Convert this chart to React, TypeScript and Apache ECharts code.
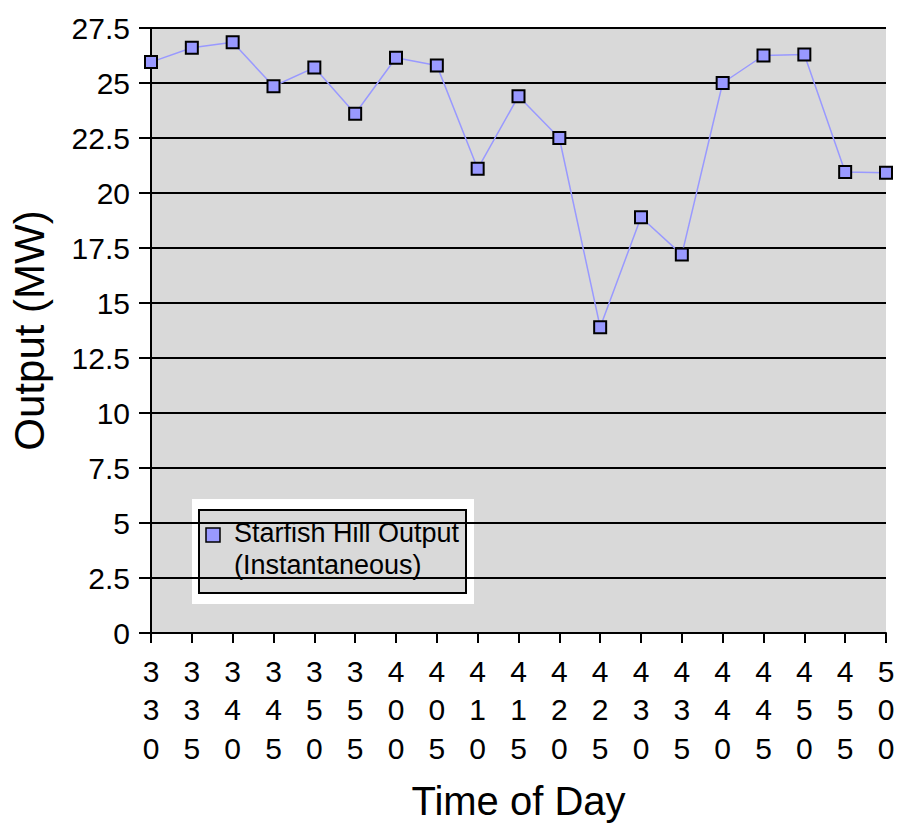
import React, { useEffect, useRef } from "react";
import * as echarts from "echarts";

const categories = ["330", "335", "340", "345", "350", "355", "400", "405", "410", "415", "420", "425", "430", "435", "440", "445", "450", "455", "500"];
const outputValues = [25.95, 26.6, 26.85, 24.85, 25.7, 23.6, 26.15, 25.8, 21.1, 24.4, 22.5, 13.9, 18.9, 17.2, 25.0, 26.25, 26.3, 20.95, 20.92];
const seriesName = "Starfish Hill Output (Instantaneous)";
const legendLines = ["Starfish Hill Output", "(Instantaneous)"];
const yTitle = "Output (MW)";
const xTitle = "Time of Day";

const FONT = "Liberation Sans, Arial, sans-serif";
const BLUE = "#9999ff";
const BG = "#d9d9d9";

export default function App() {
  const ref = useRef<HTMLDivElement>(null);
  useEffect(() => {
    if (!ref.current) return;
    document.body.style.margin = "0";
    document.body.style.overflow = "hidden";
    document.documentElement.style.overflow = "hidden";
    const chart = echarts.init(ref.current, null, { renderer: "svg" });
    chart.setOption({
      animation: false,
      backgroundColor: "#ffffff",
      textStyle: { fontFamily: FONT },
      grid: {
        left: 151,
        right: 12,
        top: 28,
        bottom: 188,
        show: true,
        backgroundColor: BG,
        borderWidth: 0,
      },
      xAxis: {
        type: "category",
        data: categories,
        boundaryGap: false,
        name: xTitle,
        nameLocation: "middle",
        nameGap: 148,
        nameTextStyle: { fontSize: 40, color: "#000", fontFamily: FONT },
        axisLine: { show: true, lineStyle: { color: "#000", width: 2 } },
        axisTick: { show: true, length: 10, lineStyle: { color: "#000", width: 2 }, interval: 0 },
        axisLabel: {
          interval: 0,
          margin: 19,
          fontSize: 30,
          lineHeight: 38.5,
          color: "#000",
          fontFamily: FONT,
          formatter: (v: string) => v.split("").join("\n"),
        },
        splitLine: { show: false },
      },
      yAxis: {
        type: "value",
        min: 0,
        max: 27.5,
        interval: 2.5,
        name: yTitle,
        nameLocation: "middle",
        nameRotate: 90,
        nameGap: 101,
        nameTextStyle: { fontSize: 42, color: "#000", fontFamily: FONT },
        axisLine: { show: true, lineStyle: { color: "#000", width: 2 } },
        axisTick: { show: true, length: 12, lineStyle: { color: "#000", width: 2 } },
        axisLabel: { margin: 21, fontSize: 30, color: "#000", fontFamily: FONT },
        splitLine: { show: true, lineStyle: { color: "#000", width: 2 } },
      },
      legend: { show: false },
      series: [
        {
          name: seriesName,
          type: "line",
          data: outputValues,
          symbol: "rect",
          symbolSize: 12,
          lineStyle: { color: BLUE, width: 1.5 },
          itemStyle: { color: BLUE, borderColor: "#000", borderWidth: 2 },
          z: 5,
        },
      ],
      graphic: [
        {
          type: "group",
          left: 192,
          top: 499,
          children: [
            { type: "rect", shape: { x: 0, y: 0, width: 282, height: 105 }, style: { fill: "#ffffff" } },
            { type: "rect", shape: { x: 7, y: 11, width: 267, height: 83 }, style: { fill: BG, stroke: "#000", lineWidth: 2 } },
            { type: "rect", shape: { x: 14, y: 29, width: 14, height: 14 }, style: { fill: BLUE, stroke: "#000", lineWidth: 1.5 } },
            { type: "text", x: 42, y: 34, style: { text: legendLines[0], font: `27px ${FONT}`, fill: "#000", verticalAlign: "middle" } },
            { type: "text", x: 42, y: 66, style: { text: legendLines[1], font: `27px ${FONT}`, fill: "#000", verticalAlign: "middle" } },
          ],
        },
      ],
    });
    return () => chart.dispose();
  }, []);
  return (
    <div style={{ width: 898, height: 826, overflow: "hidden", position: "absolute", left: 0, top: 0 }}>
      <div ref={ref} style={{ width: 898, height: 826 }} />
    </div>
  );
}
